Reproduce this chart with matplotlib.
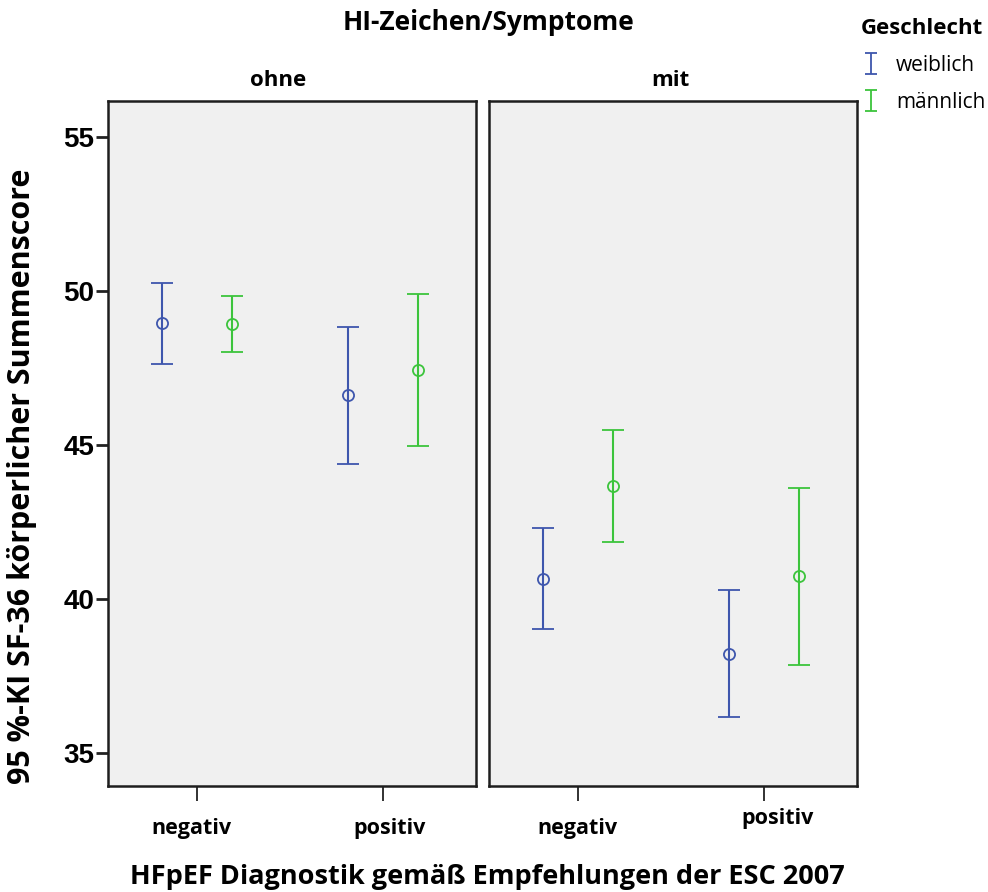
import matplotlib.pyplot as plt
import numpy as np
from matplotlib.transforms import ScaledTranslation

# data (95% CI of SF-36 physical summary score)
panels = ["ohne", "mit"]
categories = ["negativ", "positiv"]
groups = ["weiblich", "männlich"]
means = {
    "ohne": {"weiblich": [48.95, 46.62], "männlich": [48.92, 47.44]},
    "mit": {"weiblich": [40.66, 38.21], "männlich": [43.67, 40.75]},
}
lower = {
    "ohne": {"weiblich": [47.63, 44.38], "männlich": [48.03, 44.97]},
    "mit": {"weiblich": [39.02, 36.17], "männlich": [41.86, 37.87]},
}
upper = {
    "ohne": {"weiblich": [50.26, 48.83], "männlich": [49.84, 49.90]},
    "mit": {"weiblich": [42.31, 40.28], "männlich": [45.50, 43.61]},
}
yticks = [35, 40, 45, 50, 55]

colors = {"weiblich": "#3e56ad", "männlich": "#3cc43c"}
offsets = {"weiblich": -0.19, "männlich": 0.19}
txt = "Open Sans"

fig = plt.figure(figsize=(9.88, 8.92), dpi=100)
W, H = 988, 892
lefts = [108, 489]
title_x = [0.462, 0.492]
axes = []
for i, p in enumerate(panels):
    ax = fig.add_axes([lefts[i] / W, 1 - 786 / H, 368 / W, 685 / H])
    ax.set_facecolor("#f0f0f0")
    x = np.arange(len(categories))
    for g in groups:
        m = np.array(means[p][g])
        lo = m - np.array(lower[p][g])
        hi = np.array(upper[p][g]) - m
        ax.errorbar(x + offsets[g], m, yerr=[lo, hi], fmt="o", mfc="none",
                    mec=colors[g], color=colors[g], ms=8, mew=1.3,
                    elinewidth=1.5, capsize=8, capthick=1.5)
    ax.set_xlim(-0.478, 1.5)
    ax.set_ylim(33.93, 56.17)
    ax.set_xticks(x)
    ax.set_xticklabels(categories, fontfamily=txt, fontweight="bold", fontsize=15.5)
    ax.tick_params(axis="x", length=11, width=1.3, pad=12, color="#222222")
    for s in ax.spines.values():
        s.set_linewidth(1.8)
        s.set_color("#1e1e1e")
    ax.text(title_x[i], 1 + 20 / 685, p, transform=ax.transAxes, ha="center",
            va="center", fontfamily=txt, fontweight="bold", fontsize=16)
    if i == 0:
        ax.set_yticks(yticks)
        ax.set_yticklabels([str(t) for t in yticks], fontfamily="Liberation Sans",
                           fontweight="bold", fontsize=20)
        ax.tick_params(axis="y", length=9, width=2, pad=1, color="#222222")
    else:
        ax.set_yticks([])
    axes.append(ax)

# small label shifts seen in the reference
shifts = [(-5, 0), (7, 0), (0, 0), (14, 10)]
labels = axes[0].get_xticklabels() + axes[1].get_xticklabels()
for lab, (dx, dy) in zip(labels, shifts):
    lab.set_transform(lab.get_transform() + ScaledTranslation(dx / 100, dy / 100, fig.dpi_scale_trans))

fig.text(488 / W, 1 - 23 / H, "HI-Zeichen/Symptome", ha="center", va="center",
         fontfamily=txt, fontweight="bold", fontsize=19)
fig.text(22 / W, 1 - 476 / H, "95 %-KI SF-36 körperlicher Summenscore", rotation=90,
         ha="center", va="center", fontfamily=txt, fontweight="bold", fontsize=22)
fig.text(487 / W, 1 - 877 / H, "HFpEF Diagnostik gemäß Empfehlungen der ESC 2007",
         ha="center", va="center", fontfamily=txt, fontweight="bold", fontsize=19.5)

# legend
handles = []
for g in groups:
    h = axes[0].errorbar([np.nan], [np.nan], yerr=[np.nan], fmt="none", color=colors[g],
                         elinewidth=1.3, capsize=4, capthick=1.3)
    handles.append(h)
leg = fig.legend(handles, groups, loc="upper left", bbox_to_anchor=(852 / W, 1 - 10 / H),
                 title="Geschlecht", frameon=False, handlelength=1.0,
                 handletextpad=0.7, labelspacing=0.75, borderaxespad=0,
                 prop={"family": txt, "size": 15},
                 title_fontproperties={"family": txt, "weight": "bold", "size": 16})
leg._legend_box.align = "left"

fig.savefig("out.png", dpi=100)
